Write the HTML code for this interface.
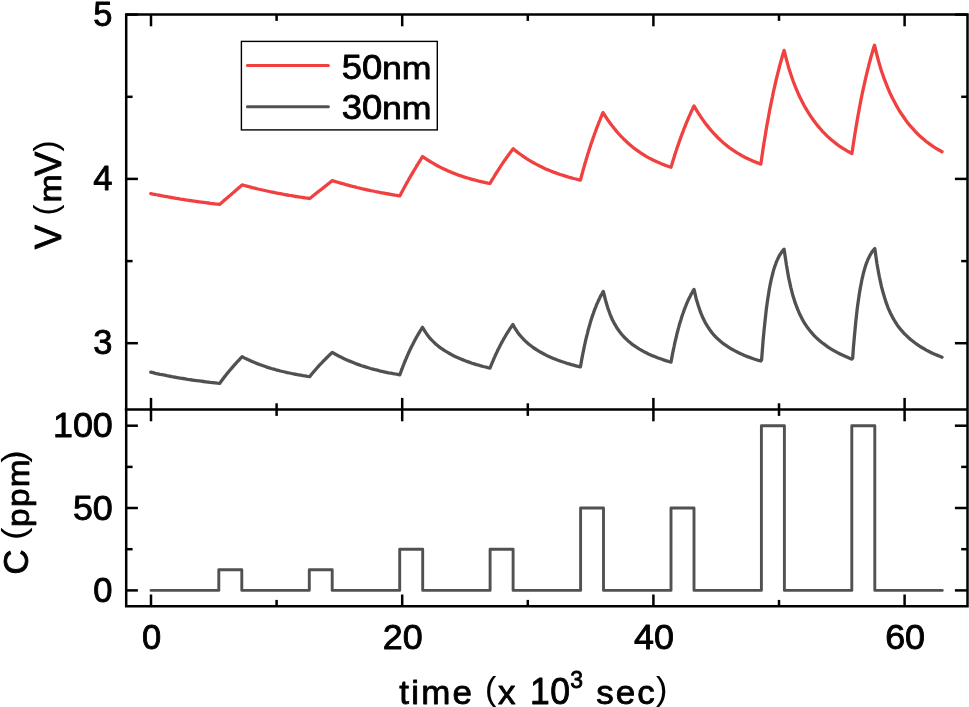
<!DOCTYPE html>
<html><head><meta charset="utf-8"><title>chart</title>
<style>html,body{margin:0;padding:0;background:#fff}svg{display:block;will-change:transform}</style></head>
<body>
<svg width="969" height="707" viewBox="0 0 969 707">
<rect width="969" height="707" fill="#fff"/>
<g stroke="#000" stroke-width="2.5" fill="none">
<path d="M151.0 14.6V26.3"/>
<path d="M151.0 397.9V421.3"/>
<path d="M151.0 594.5V606.2"/>
<path d="M402.2 14.6V26.3"/>
<path d="M402.2 397.9V421.3"/>
<path d="M402.2 594.5V606.2"/>
<path d="M653.4 14.6V26.3"/>
<path d="M653.4 397.9V421.3"/>
<path d="M653.4 594.5V606.2"/>
<path d="M904.6 14.6V26.3"/>
<path d="M904.6 397.9V421.3"/>
<path d="M904.6 594.5V606.2"/>
<path d="M276.6 14.6V20.9"/>
<path d="M276.6 403.3V415.9"/>
<path d="M276.6 599.9V606.2"/>
<path d="M527.8 14.6V20.9"/>
<path d="M527.8 403.3V415.9"/>
<path d="M527.8 599.9V606.2"/>
<path d="M779.0 14.6V20.9"/>
<path d="M779.0 403.3V415.9"/>
<path d="M779.0 599.9V606.2"/>
<path d="M126.2 343.2H137.9"/>
<path d="M954.9 343.2H967.5"/>
<path d="M126.2 178.9H137.9"/>
<path d="M954.9 178.9H967.5"/>
<path d="M126.2 14.6H137.9"/>
<path d="M954.9 14.6H967.5"/>
<path d="M126.2 261.1H132.6"/>
<path d="M961.2 261.1H967.5"/>
<path d="M126.2 96.8H132.6"/>
<path d="M961.2 96.8H967.5"/>
<path d="M126.2 590.4H137.9"/>
<path d="M954.9 590.4H967.5"/>
<path d="M126.2 508.0H137.9"/>
<path d="M954.9 508.0H967.5"/>
<path d="M126.2 425.7H137.9"/>
<path d="M954.9 425.7H967.5"/>
<path d="M126.2 549.2H132.6"/>
<path d="M961.2 549.2H967.5"/>
<path d="M126.2 466.9H132.6"/>
<path d="M961.2 466.9H967.5"/>
<path d="M126.2 14.6H967.5V606.2H126.2Z" stroke-linejoin="miter"/>
<path d="M124.8 409.6H967.5"/>
</g>
<polyline points="150.8,193.6 153.1,194.1 155.4,194.5 157.7,195.0 160.0,195.4 162.3,195.9 164.6,196.3 166.9,196.7 169.1,197.1 171.4,197.5 173.7,197.9 176.0,198.3 178.3,198.7 180.6,199.1 182.9,199.4 185.2,199.8 187.5,200.2 189.8,200.5 192.1,200.8 194.4,201.2 196.7,201.5 199.0,201.8 201.3,202.1 203.5,202.4 205.8,202.7 208.1,203.0 210.4,203.3 212.7,203.6 215.0,203.9 217.3,204.1 219.6,204.4 220.4,203.8 221.1,203.1 221.9,202.5 222.6,201.8 223.4,201.2 224.1,200.5 224.9,199.8 225.6,199.2 226.4,198.6 227.1,197.9 227.9,197.2 228.6,196.6 229.4,196.0 230.1,195.3 230.9,194.7 231.7,194.0 232.4,193.3 233.2,192.7 233.9,192.1 234.7,191.4 235.4,190.8 236.2,190.1 236.9,189.5 237.7,188.8 238.4,188.2 239.2,187.5 239.9,186.8 240.7,186.2 241.4,185.6 242.2,184.9 244.4,185.5 246.7,186.1 248.9,186.7 251.2,187.3 253.4,187.9 255.7,188.4 257.9,189.0 260.2,189.5 262.4,190.0 264.7,190.5 266.9,191.0 269.2,191.5 271.4,192.0 273.7,192.4 275.9,192.9 278.2,193.3 280.4,193.7 282.7,194.2 284.9,194.6 287.2,195.0 289.4,195.4 291.7,195.7 293.9,196.1 296.2,196.5 298.4,196.8 300.7,197.2 302.9,197.5 305.2,197.9 307.4,198.2 309.7,198.5 310.5,197.9 311.2,197.3 312.0,196.7 312.7,196.1 313.5,195.5 314.2,194.9 315.0,194.3 315.7,193.7 316.5,193.1 317.2,192.5 318.0,191.9 318.7,191.3 319.5,190.7 320.2,190.1 321.0,189.6 321.8,189.0 322.5,188.4 323.3,187.8 324.0,187.2 324.8,186.6 325.5,186.0 326.3,185.4 327.0,184.8 327.8,184.2 328.5,183.6 329.3,183.0 330.0,182.4 330.8,181.8 331.5,181.2 332.3,180.6 334.6,181.3 336.8,182.0 339.1,182.7 341.3,183.3 343.6,183.9 345.8,184.6 348.1,185.2 350.3,185.8 352.6,186.4 354.8,186.9 357.1,187.5 359.3,188.0 361.6,188.6 363.8,189.1 366.1,189.6 368.3,190.1 370.6,190.6 372.8,191.0 375.1,191.5 377.3,191.9 379.6,192.4 381.8,192.8 384.1,193.2 386.3,193.6 388.6,194.0 390.8,194.4 393.1,194.8 395.3,195.2 397.6,195.5 399.8,195.9 400.6,194.5 401.3,193.0 402.1,191.6 402.8,190.2 403.6,188.8 404.4,187.4 405.1,186.0 405.9,184.6 406.6,183.2 407.4,181.9 408.2,180.5 408.9,179.2 409.7,177.9 410.4,176.5 411.2,175.2 412.0,173.9 412.7,172.6 413.5,171.3 414.2,170.0 415.0,168.8 415.8,167.5 416.5,166.2 417.3,165.0 418.0,163.8 418.8,162.5 419.6,161.3 420.3,160.1 421.1,158.9 421.8,157.7 422.6,156.5 424.8,158.1 427.1,159.6 429.3,161.0 431.6,162.4 433.8,163.7 436.1,165.0 438.3,166.2 440.6,167.4 442.8,168.5 445.1,169.6 447.3,170.6 449.6,171.5 451.8,172.5 454.1,173.4 456.3,174.2 458.5,175.1 460.8,175.8 463.0,176.6 465.3,177.3 467.5,178.0 469.8,178.7 472.0,179.3 474.3,179.9 476.5,180.5 478.8,181.1 481.0,181.6 483.3,182.1 485.5,182.6 487.8,183.1 490.0,183.5 490.8,182.2 491.5,180.8 492.3,179.5 493.1,178.3 493.9,177.0 494.6,175.7 495.4,174.4 496.2,173.2 497.0,172.0 497.7,170.8 498.5,169.6 499.3,168.4 500.1,167.2 500.8,166.0 501.6,164.9 502.4,163.7 503.1,162.6 503.9,161.4 504.7,160.3 505.5,159.2 506.2,158.1 507.0,157.1 507.8,156.0 508.6,154.9 509.3,153.9 510.1,152.8 510.9,151.8 511.7,150.8 512.4,149.8 513.2,148.8 515.4,150.6 517.7,152.4 519.9,154.0 522.2,155.6 524.4,157.2 526.6,158.7 528.9,160.1 531.1,161.4 533.4,162.7 535.6,163.9 537.8,165.1 540.1,166.2 542.3,167.3 544.6,168.4 546.8,169.4 549.0,170.3 551.3,171.2 553.5,172.1 555.8,172.9 558.0,173.7 560.2,174.5 562.5,175.2 564.7,175.9 567.0,176.6 569.2,177.3 571.4,177.9 573.7,178.5 575.9,179.0 578.2,179.6 580.4,180.1 581.2,177.3 581.9,174.5 582.7,171.7 583.4,169.0 584.2,166.4 584.9,163.8 585.7,161.2 586.4,158.7 587.2,156.2 587.9,153.8 588.7,151.4 589.4,149.0 590.2,146.7 590.9,144.4 591.7,142.2 592.5,139.9 593.2,137.8 594.0,135.6 594.7,133.5 595.5,131.5 596.2,129.4 597.0,127.4 597.7,125.5 598.5,123.5 599.2,121.6 600.0,119.8 600.7,117.9 601.5,116.1 602.2,114.3 603.0,112.6 605.3,116.2 607.5,119.5 609.8,122.7 612.1,125.8 614.3,128.6 616.6,131.4 618.9,134.0 621.1,136.4 623.4,138.7 625.7,140.9 627.9,143.0 630.2,145.0 632.5,146.9 634.7,148.7 637.0,150.3 639.3,151.9 641.5,153.5 643.8,154.9 646.1,156.3 648.3,157.6 650.6,158.8 652.9,159.9 655.1,161.0 657.4,162.1 659.7,163.1 661.9,164.0 664.2,164.9 666.5,165.7 668.7,166.5 671.0,167.3 671.8,164.7 672.5,162.2 673.3,159.7 674.1,157.2 674.8,154.8 675.6,152.5 676.4,150.1 677.1,147.8 677.9,145.6 678.7,143.3 679.4,141.2 680.2,139.0 681.0,136.9 681.7,134.8 682.5,132.8 683.3,130.8 684.0,128.8 684.8,126.9 685.6,124.9 686.3,123.1 687.1,121.2 687.9,119.4 688.6,117.6 689.4,115.9 690.2,114.1 690.9,112.4 691.7,110.8 692.5,109.1 693.2,107.5 694.0,105.9 696.2,109.7 698.5,113.3 700.7,116.7 702.9,119.9 705.1,123.0 707.4,125.9 709.6,128.6 711.8,131.2 714.0,133.7 716.3,136.0 718.5,138.3 720.7,140.4 722.9,142.4 725.2,144.3 727.4,146.1 729.6,147.8 731.9,149.4 734.1,150.9 736.3,152.4 738.5,153.7 740.8,155.0 743.0,156.3 745.2,157.4 747.4,158.5 749.7,159.6 751.9,160.6 754.1,161.5 756.3,162.4 758.6,163.3 760.8,164.1 761.6,158.8 762.4,153.5 763.1,148.5 763.9,143.5 764.7,138.7 765.5,134.0 766.2,129.4 767.0,124.9 767.8,120.6 768.6,116.3 769.3,112.2 770.1,108.1 770.9,104.2 771.7,100.3 772.5,96.6 773.2,92.9 774.0,89.4 774.8,85.9 775.6,82.5 776.3,79.2 777.1,76.0 777.9,72.8 778.7,69.8 779.4,66.8 780.2,63.9 781.0,61.1 781.8,58.3 782.5,55.6 783.3,53.0 784.1,50.4 786.4,59.4 788.6,67.4 790.9,74.6 793.1,81.0 795.4,86.9 797.7,92.3 799.9,97.2 802.2,101.8 804.4,106.0 806.7,109.9 809.0,113.6 811.2,117.0 813.5,120.2 815.7,123.3 818.0,126.1 820.3,128.8 822.5,131.3 824.8,133.6 827.0,135.9 829.3,138.0 831.6,140.0 833.8,141.8 836.1,143.6 838.3,145.3 840.6,146.8 842.9,148.3 845.1,149.7 847.4,151.1 849.6,152.3 851.9,153.5 852.7,148.4 853.4,143.4 854.2,138.6 854.9,133.9 855.7,129.3 856.4,124.8 857.2,120.4 857.9,116.2 858.7,112.0 859.4,108.0 860.2,104.0 860.9,100.2 861.7,96.4 862.4,92.8 863.2,89.2 864.0,85.7 864.7,82.3 865.5,79.0 866.2,75.8 867.0,72.6 867.7,69.6 868.5,66.6 869.2,63.7 870.0,60.8 870.7,58.0 871.5,55.3 872.2,52.7 873.0,50.1 873.7,47.6 874.5,45.2 876.8,54.5 879.0,62.8 881.2,70.2 883.5,76.8 885.8,82.9 888.0,88.4 890.2,93.5 892.5,98.2 894.8,102.6 897.0,106.7 899.2,110.5 901.5,114.0 903.8,117.3 906.0,120.5 908.2,123.4 910.5,126.2 912.8,128.7 915.0,131.2 917.2,133.5 919.5,135.7 921.8,137.7 924.0,139.6 926.2,141.5 928.5,143.2 930.8,144.8 933.0,146.4 935.2,147.8 937.5,149.2 939.8,150.5 942.0,151.7" fill="none" stroke="#F14040" stroke-width="3.3" stroke-linejoin="round" stroke-linecap="round"/>
<polyline points="150.8,372.2 153.1,372.7 155.4,373.3 157.7,373.8 160.0,374.3 162.3,374.7 164.6,375.2 166.9,375.7 169.1,376.1 171.4,376.5 173.7,377.0 176.0,377.4 178.3,377.8 180.6,378.2 182.9,378.5 185.2,378.9 187.5,379.3 189.8,379.6 192.1,380.0 194.4,380.3 196.7,380.6 199.0,380.9 201.3,381.2 203.5,381.5 205.8,381.8 208.1,382.1 210.4,382.4 212.7,382.6 215.0,382.9 217.3,383.2 219.6,383.4 220.4,382.4 221.1,381.4 221.9,380.4 222.6,379.4 223.4,378.4 224.1,377.4 224.9,376.4 225.6,375.5 226.4,374.5 227.1,373.6 227.9,372.7 228.6,371.8 229.4,370.8 230.1,369.9 230.9,369.1 231.7,368.2 232.4,367.3 233.2,366.4 233.9,365.6 234.7,364.7 235.4,363.9 236.2,363.1 236.9,362.2 237.7,361.4 238.4,360.6 239.2,359.8 239.9,359.0 240.7,358.2 241.4,357.5 242.2,356.7 244.4,357.9 246.7,359.0 248.9,360.0 251.2,361.1 253.4,362.0 255.7,363.0 257.9,363.9 260.2,364.7 262.4,365.5 264.7,366.3 266.9,367.1 269.2,367.8 271.4,368.5 273.7,369.1 275.9,369.8 278.2,370.4 280.4,371.0 282.7,371.5 284.9,372.0 287.2,372.6 289.4,373.0 291.7,373.5 293.9,374.0 296.2,374.4 298.4,374.8 300.7,375.2 302.9,375.6 305.2,375.9 307.4,376.3 309.7,376.6 310.5,375.7 311.2,374.8 312.0,373.8 312.7,372.9 313.5,372.0 314.2,371.2 315.0,370.3 315.7,369.4 316.5,368.6 317.2,367.7 318.0,366.9 318.7,366.0 319.5,365.2 320.2,364.4 321.0,363.6 321.8,362.8 322.5,362.0 323.3,361.2 324.0,360.4 324.8,359.7 325.5,358.9 326.3,358.2 327.0,357.4 327.8,356.7 328.5,355.9 329.3,355.2 330.0,354.5 330.8,353.8 331.5,353.1 332.3,352.4 334.6,353.7 336.8,355.0 339.1,356.2 341.3,357.3 343.6,358.4 345.8,359.4 348.1,360.5 350.3,361.4 352.6,362.3 354.8,363.2 357.1,364.1 359.3,364.9 361.6,365.7 363.8,366.4 366.1,367.1 368.3,367.8 370.6,368.5 372.8,369.1 375.1,369.7 377.3,370.2 379.6,370.8 381.8,371.3 384.1,371.8 386.3,372.3 388.6,372.8 390.8,373.2 393.1,373.6 395.3,374.0 397.6,374.4 399.8,374.8 400.6,372.7 401.3,370.7 402.1,368.7 402.8,366.7 403.6,364.8 404.3,362.9 405.1,361.0 405.9,359.2 406.6,357.5 407.4,355.7 408.1,354.0 408.9,352.3 409.6,350.7 410.4,349.1 411.1,347.5 411.9,346.0 412.7,344.5 413.4,343.0 414.2,341.5 414.9,340.1 415.7,338.7 416.4,337.3 417.2,336.0 418.0,334.7 418.7,333.4 419.5,332.1 420.2,330.9 421.0,329.7 421.7,328.5 422.5,327.3 424.8,331.1 427.0,334.4 429.2,337.3 431.5,339.9 433.8,342.1 436.0,344.2 438.2,346.1 440.5,347.8 442.8,349.4 445.0,350.9 447.2,352.2 449.5,353.5 451.8,354.8 454.0,355.9 456.2,357.0 458.5,358.0 460.8,359.0 463.0,359.9 465.2,360.8 467.5,361.6 469.8,362.4 472.0,363.2 474.2,363.9 476.5,364.6 478.8,365.2 481.0,365.9 483.2,366.5 485.5,367.0 487.8,367.6 490.0,368.1 490.8,366.2 491.5,364.3 492.3,362.5 493.1,360.7 493.8,358.9 494.6,357.2 495.3,355.5 496.1,353.8 496.9,352.2 497.6,350.6 498.4,349.0 499.2,347.5 499.9,346.0 500.7,344.5 501.4,343.1 502.2,341.6 503.0,340.2 503.7,338.9 504.5,337.6 505.3,336.2 506.0,335.0 506.8,333.7 507.6,332.5 508.3,331.3 509.1,330.1 509.8,328.9 510.6,327.8 511.4,326.7 512.1,325.6 512.9,324.5 515.1,328.5 517.4,331.9 519.6,334.9 521.9,337.5 524.1,339.9 526.4,342.1 528.6,344.0 530.9,345.8 533.1,347.5 535.4,349.0 537.6,350.4 539.9,351.8 542.1,353.0 544.4,354.2 546.6,355.4 548.9,356.4 551.1,357.4 553.4,358.4 555.6,359.3 557.9,360.2 560.1,361.0 562.4,361.8 564.6,362.5 566.9,363.3 569.1,363.9 571.4,364.6 573.6,365.2 575.9,365.8 578.1,366.4 580.4,366.9 581.2,362.6 581.9,358.4 582.7,354.5 583.5,350.7 584.2,347.0 585.0,343.5 585.7,340.1 586.5,336.9 587.3,333.8 588.0,330.8 588.8,328.0 589.6,325.3 590.3,322.6 591.1,320.1 591.8,317.7 592.6,315.4 593.4,313.2 594.1,311.1 594.9,309.0 595.7,307.1 596.4,305.2 597.2,303.4 598.0,301.7 598.7,300.0 599.5,298.4 600.2,296.9 601.0,295.4 601.8,294.0 602.5,292.7 603.3,291.4 605.6,300.5 607.8,308.0 610.1,314.3 612.3,319.5 614.6,323.9 616.8,327.7 619.1,331.0 621.4,334.0 623.6,336.5 625.9,338.8 628.1,340.9 630.4,342.8 632.6,344.6 634.9,346.2 637.1,347.7 639.4,349.1 641.7,350.4 643.9,351.7 646.2,352.8 648.4,353.9 650.7,354.9 652.9,355.9 655.2,356.8 657.5,357.7 659.7,358.5 662.0,359.3 664.2,360.1 666.5,360.8 668.7,361.5 671.0,362.1 671.8,357.9 672.5,354.0 673.3,350.1 674.1,346.5 674.8,342.9 675.6,339.6 676.4,336.3 677.1,333.2 677.9,330.2 678.7,327.4 679.4,324.6 680.2,322.0 681.0,319.5 681.7,317.1 682.5,314.7 683.3,312.5 684.0,310.4 684.8,308.3 685.6,306.4 686.3,304.5 687.1,302.7 687.9,300.9 688.6,299.3 689.4,297.7 690.2,296.2 690.9,294.7 691.7,293.3 692.5,291.9 693.2,290.6 694.0,289.4 696.2,298.7 698.5,306.3 700.7,312.6 702.9,317.8 705.1,322.3 707.4,326.2 709.6,329.5 711.8,332.5 714.0,335.1 716.3,337.5 718.5,339.6 720.7,341.5 722.9,343.3 725.2,344.9 727.4,346.4 729.6,347.9 731.9,349.2 734.1,350.4 736.3,351.6 738.5,352.7 740.8,353.8 743.0,354.7 745.2,355.7 747.4,356.6 749.7,357.4 751.9,358.2 754.1,359.0 756.3,359.7 758.6,360.4 760.8,361.0 761.6,359.9 762.4,349.7 763.1,340.3 763.9,331.8 764.7,324.0 765.5,316.8 766.2,310.3 767.0,304.3 767.8,298.8 768.6,293.8 769.3,289.2 770.1,285.0 770.9,281.2 771.7,277.7 772.5,274.5 773.2,271.6 774.0,268.9 774.8,266.4 775.6,264.2 776.3,262.1 777.1,260.3 777.9,258.6 778.7,257.0 779.4,255.6 780.2,254.3 781.0,253.1 781.8,252.0 782.5,251.0 783.3,250.0 784.1,249.2 786.4,264.8 788.6,277.4 790.9,287.8 793.1,296.3 795.4,303.4 797.7,309.4 799.9,314.6 802.2,319.1 804.4,323.0 806.7,326.4 809.0,329.5 811.2,332.2 813.5,334.8 815.7,337.1 818.0,339.2 820.3,341.2 822.5,343.0 824.8,344.7 827.0,346.3 829.3,347.9 831.6,349.3 833.8,350.6 836.1,351.9 838.3,353.1 840.6,354.2 842.9,355.3 845.1,356.3 847.4,357.3 849.6,358.2 851.9,359.1 852.7,358.0 853.4,347.9 854.2,338.7 855.0,330.2 855.7,322.5 856.5,315.4 857.2,308.9 858.0,303.0 858.8,297.6 859.5,292.7 860.3,288.1 861.1,284.0 861.8,280.2 862.6,276.8 863.3,273.6 864.1,270.7 864.9,268.1 865.6,265.6 866.4,263.4 867.2,261.4 867.9,259.5 868.7,257.9 869.5,256.3 870.2,254.9 871.0,253.6 871.7,252.4 872.5,251.3 873.3,250.3 874.0,249.4 874.8,248.6 877.0,264.0 879.3,276.5 881.5,286.7 883.8,295.1 886.0,302.2 888.2,308.1 890.5,313.2 892.7,317.6 895.0,321.5 897.2,324.9 899.4,327.9 901.7,330.7 903.9,333.2 906.2,335.4 908.4,337.5 910.6,339.5 912.9,341.3 915.1,343.0 917.4,344.6 919.6,346.1 921.8,347.5 924.1,348.8 926.3,350.1 928.6,351.3 930.8,352.4 933.0,353.5 935.3,354.5 937.5,355.4 939.8,356.3 942.0,357.2" fill="none" stroke="#515151" stroke-width="3.3" stroke-linejoin="round" stroke-linecap="round"/>
<polyline points="151.0,590.4 218.8,590.4 218.8,569.8 241.8,569.8 241.8,590.4 309.3,590.4 309.3,569.8 332.2,569.8 332.2,590.4 399.7,590.4 399.7,549.2 422.7,549.2 422.7,590.4 490.1,590.4 490.1,549.2 513.1,549.2 513.1,590.4 580.6,590.4 580.6,508.0 603.5,508.0 603.5,590.4 671.0,590.4 671.0,508.0 694.0,508.0 694.0,590.4 761.4,590.4 761.4,425.7 784.4,425.7 784.4,590.4 851.8,590.4 851.8,425.7 874.8,425.7 874.8,590.4 942.3,590.4" fill="none" stroke="#515151" stroke-width="2.9" stroke-linejoin="round" stroke-linecap="round"/>
<rect x="241.4" y="41.4" width="195.9" height="88.5" fill="#fff" stroke="#000" stroke-width="1.4"/>
<path d="M247.4 65.6H328.4" stroke="#F14040" stroke-width="3.0" stroke-linecap="round"/>
<path d="M247.4 106.7H328.4" stroke="#515151" stroke-width="3.0" stroke-linecap="round"/>
<g font-family="Liberation Sans, sans-serif" fill="#000" stroke="#000" stroke-width="0.85" stroke-linejoin="round">
<text transform="translate(341.80,78.50) scale(1.0400,1.0100)" font-size="35.00" text-anchor="start">50</text>
<text transform="translate(382.00,78.50) scale(1.0200,0.9000)" font-size="35.00" text-anchor="start">nm</text>
<text transform="translate(341.80,119.40) scale(1.0400,1.0100)" font-size="35.00" text-anchor="start">30</text>
<text transform="translate(382.00,119.40) scale(1.0200,0.9000)" font-size="35.00" text-anchor="start">nm</text>
<text transform="translate(112.50,25.70) scale(1.0000,1.0000)" font-size="34.50" text-anchor="end">5</text>
<text transform="translate(112.50,190.00) scale(1.0000,1.0000)" font-size="34.50" text-anchor="end">4</text>
<text transform="translate(112.50,354.30) scale(1.0000,1.0000)" font-size="34.50" text-anchor="end">3</text>
<text transform="translate(112.50,601.90) scale(1.0000,1.0000)" font-size="34.50" text-anchor="end">0</text>
<text transform="translate(112.80,519.55) scale(1.0400,1.0000)" font-size="34.50" text-anchor="end">50</text>
<text transform="translate(112.80,437.20) scale(1.0400,1.0000)" font-size="34.50" text-anchor="end">100</text>
<text transform="translate(151.50,649.20) scale(1.0000,1.0000)" font-size="34.50" text-anchor="middle">0</text>
<text transform="translate(402.70,649.20) scale(1.0400,1.0000)" font-size="34.50" text-anchor="middle">20</text>
<text transform="translate(653.90,649.20) scale(1.0400,1.0000)" font-size="34.50" text-anchor="middle">40</text>
<text transform="translate(905.10,649.20) scale(1.0400,1.0000)" font-size="34.50" text-anchor="middle">60</text>
<text transform="translate(399.30,703.60) scale(1.0000,0.9300)" font-size="35.00" letter-spacing="2.20">time</text>
<text transform="translate(485.00,700.00) scale(1.0000,1.0000)" font-size="34.00" letter-spacing="0.00" stroke-width="0.10">(</text>
<text transform="translate(498.00,703.60) scale(1.0000,0.9300)" font-size="35.00" letter-spacing="0.00">x</text>
<text transform="translate(530.00,703.50) scale(0.9600,1.0000)" font-size="37.00" letter-spacing="0.50">10</text>
<text transform="translate(570.30,688.40) scale(0.9200,0.9800)" font-size="25.00" letter-spacing="0.00">3</text>
<text transform="translate(596.30,703.60) scale(1.0000,0.9300)" font-size="35.00" letter-spacing="2.00">sec</text>
<text transform="translate(656.00,700.00) scale(1.0000,1.0000)" font-size="34.00" letter-spacing="0.00" stroke-width="0.10">)</text>
</g>
<g font-family="Liberation Sans, sans-serif" fill="#000" stroke="#000" stroke-width="0.85" stroke-linejoin="round">
<g transform="translate(61.40,249.50) rotate(-90)">
<text transform="translate(0.30,0.00) scale(1.0000,1.0000)" font-size="36.50" letter-spacing="0.00">V</text>
<text transform="translate(34.00,-4.20) scale(1.0000,1.0000)" font-size="33.00" letter-spacing="0.00" stroke-width="0.10">(</text>
<text transform="translate(47.00,0.00) scale(1.0000,0.9400)" font-size="34.00" letter-spacing="0.00">m</text>
<text transform="translate(73.60,0.00) scale(1.0000,1.0000)" font-size="36.50" letter-spacing="0.00">V</text>
<text transform="translate(98.00,-4.20) scale(1.0000,1.0000)" font-size="33.00" letter-spacing="0.00" stroke-width="0.10">)</text>
</g>
<g transform="translate(28.90,573.50) rotate(-90)">
<text transform="translate(-1.10,-1.00) scale(0.9900,1.0000)" font-size="35.00" letter-spacing="0.00">C</text>
<text transform="translate(33.60,-4.00) scale(1.1000,1.0000)" font-size="34.00" letter-spacing="0.00" stroke-width="0.10">(</text>
<text transform="translate(46.50,0.00) scale(0.9800,0.9400)" font-size="34.00" letter-spacing="1.40">ppm</text>
<text transform="translate(110.80,-4.00) scale(1.1000,1.0000)" font-size="34.00" letter-spacing="0.00" stroke-width="0.10">)</text>
</g>
</g>
</svg>
</body></html>
